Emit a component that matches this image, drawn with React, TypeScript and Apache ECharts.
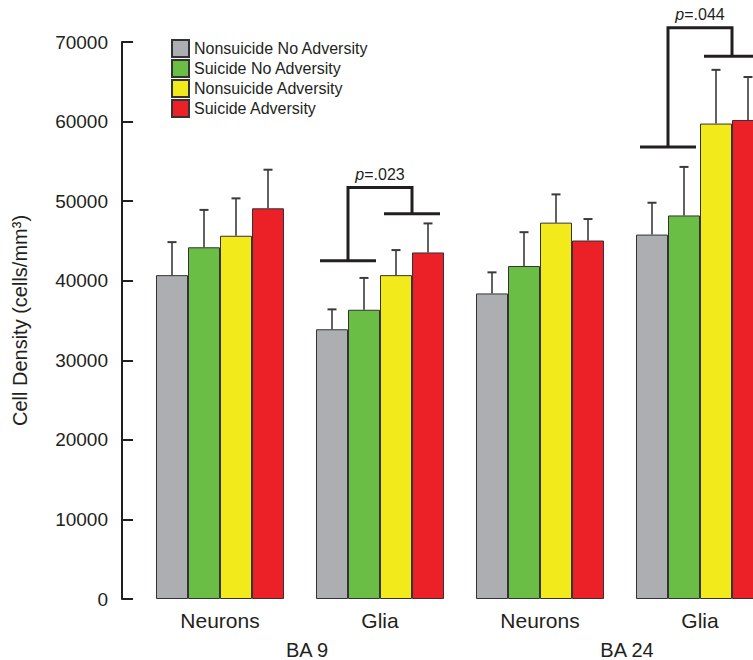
import React, { useEffect, useRef } from "react";
import * as echarts from "echarts";

const categories = ["Neurons", "Glia", "Neurons", "Glia"];
const regions = ["BA 9", "BA 24"];
const seriesNames = [
  "Nonsuicide No Adversity",
  "Suicide No Adversity",
  "Nonsuicide Adversity",
  "Suicide Adversity",
];
const seriesColors = ["#adaeb2", "#6abd45", "#f2ea1a", "#ec2027"];
const nonsuicideNoAdv = [40700, 33900, 38400, 45800];
const suicideNoAdv = [44200, 36350, 41850, 48200];
const nonsuicideAdv = [45650, 40700, 47300, 59750];
const suicideAdv = [49100, 43550, 45050, 60200];
const errNonsuicideNoAdv = [4150, 2500, 2650, 4000];
const errSuicideNoAdv = [4700, 4000, 4250, 6100];
const errNonsuicideAdv = [4700, 3150, 3550, 6750];
const errSuicideAdv = [4850, 3650, 2700, 5400];
// bracket: [category index, left level, top level, right level, label]
const brackets: [number, number, number, number, string][] = [
  [1, 42500, 51700, 48400, ".023"],
  [3, 56800, 71800, 68200, ".044"],
];
const yTicks = { min: 0, max: 70000, interval: 10000 };

const means = [nonsuicideNoAdv, suicideNoAdv, nonsuicideAdv, suicideAdv];
const errs = [errNonsuicideNoAdv, errSuicideNoAdv, errNonsuicideAdv, errSuicideAdv];

const FONT = "Liberation Sans, Arial, sans-serif";
const INK = "#231f20";

export default function App() {
  const ref = useRef<HTMLDivElement>(null);
  useEffect(() => {
    if (!ref.current) return;
    const chart = echarts.init(ref.current, null, { renderer: "svg" });
    const barSeries = seriesNames.map((name, i) => ({
      name,
      type: "bar",
      data: means[i],
      barWidth: "20%",
      barGap: "0%",
      itemStyle: { color: seriesColors[i], borderColor: "#333", borderWidth: 1 },
      z: 2,
    }));
    const errSeries = seriesNames.map((name, i) => ({
      type: "custom",
      name: name + " err",
      z: 3,
      data: means[i].map((m, k) => [k, m, errs[i][k]]),
      renderItem: (params: any, api: any) => {
        const ci = api.value(0);
        const m = api.value(1);
        const e = api.value(2);
        const p0 = api.coord([ci, m]);
        const p1 = api.coord([ci, m + e]);
        const band = api.size([1, 0])[0];
        const bw = band * 0.2;
        const x = p0[0] + bw * (i - 1.5);
        return {
          type: "group",
          children: [
            { type: "line", shape: { x1: x, y1: p0[1], x2: x, y2: p1[1] }, style: { stroke: "#3a3a3a", lineWidth: 1.6 } },
            { type: "line", shape: { x1: x - 4.5, y1: p1[1], x2: x + 4.5, y2: p1[1] }, style: { stroke: "#3a3a3a", lineWidth: 2 } },
          ],
        };
      },
    }));
    const bracketSeries = {
      type: "custom",
      name: "brackets",
      z: 4,
      data: brackets.map((b) => [b[0], b[1], b[2], b[3]]),
      renderItem: (params: any, api: any) => {
        const ci = api.value(0);
        const pl = api.coord([ci, api.value(1)]);
        const pt = api.coord([ci, api.value(2)]);
        const pr = api.coord([ci, api.value(3)]);
        const band = api.size([1, 0])[0];
        const bw = band * 0.2;
        const hw = band * 0.175;
        const cx = pl[0];
        const xl = cx - bw;
        const xr = cx + bw;
        const st = { stroke: INK, lineWidth: 3, fill: "none" };
        return {
          type: "group",
          children: [
            { type: "line", shape: { x1: xl - hw, y1: pl[1], x2: xl + hw, y2: pl[1] }, style: st },
            { type: "polyline", shape: { points: [[xl, pl[1]], [xl, pt[1]], [xr, pt[1]], [xr, pr[1]]] }, style: st },
            { type: "line", shape: { x1: xr - hw, y1: pr[1], x2: xr + hw, y2: pr[1] }, style: st },
            {
              type: "text",
              x: cx,
              y: pt[1] - 13,
              style: {
                text: "{i|p}=" + brackets[params.dataIndex][4],
                align: "center",
                verticalAlign: "middle",
                font: "16px " + FONT,
                fill: INK,
                rich: { i: { fontStyle: "italic", fontSize: 16, fontFamily: FONT, fill: INK } },
              },
            },
          ],
        };
      },
    };
    chart.setOption({
      animation: false,
      textStyle: { fontFamily: FONT },
      legend: {
        data: seriesNames,
        orient: "vertical",
        left: 171,
        top: 39,
        itemWidth: 17,
        itemHeight: 17,
        itemGap: 1,
        padding: 0,
        icon: "rect",
        textStyle: { fontSize: 16, color: INK, fontFamily: FONT },
      },
      grid: { left: 140, right: 0, top: 42, bottom: 59, containLabel: false },
      xAxis: [
        {
          type: "category",
          data: categories,
          axisLine: { show: false },
          axisTick: { show: false },
          axisLabel: { fontSize: 21, color: INK, margin: 11, fontFamily: FONT },
        },
        {
          type: "category",
          data: regions,
          position: "bottom",
          axisLine: { show: false },
          axisTick: { show: false },
          axisLabel: { fontSize: 20, color: INK, margin: 41, fontFamily: FONT, padding: [0, 0, 0, 14] },
        },
      ],
      yAxis: {
        type: "value",
        min: yTicks.min,
        max: yTicks.max,
        interval: yTicks.interval,
        offset: 18,
        name: "Cell Density (cells/mm³)",
        nameLocation: "middle",
        nameGap: 92,
        nameTextStyle: { fontSize: 20, color: INK, fontFamily: FONT },
        axisLine: { show: true, lineStyle: { color: INK, width: 2 } },
        axisTick: { show: true, inside: true, length: 11, lineStyle: { color: INK, width: 2 } },
        axisLabel: { fontSize: 19, color: INK, margin: 14, fontFamily: FONT, formatter: (v: number) => String(v) },
        splitLine: { show: false },
      },
      series: [...barSeries, ...errSeries, bracketSeries],
    });
    return () => chart.dispose();
  }, []);
  return (
    <div style={{ position: "absolute", left: 0, top: 0, width: 753, height: 660, overflow: "hidden", background: "#fff" }}>
      <div ref={ref} style={{ width: 780, height: 660 }} />
    </div>
  );
}
